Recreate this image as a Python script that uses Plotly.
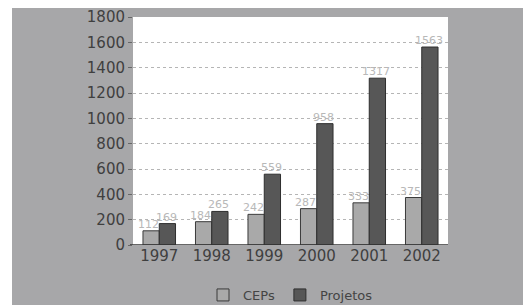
import plotly.graph_objects as go

years = ["1997", "1998", "1999", "2000", "2001", "2002"]
ceps = [112, 184, 242, 287, 333, 375]
projetos = [169, 265, 559, 958, 1317, 1563]
y_ticks = [0, 200, 400, 600, 800, 1000, 1200, 1400, 1600, 1800]

FONT = "DejaVu Sans"
OFF = 8  # default page body margin
W, H = 531 - OFF, 305 - OFF
L, T = 133 - OFF, 17 - OFF
PW, PH = 315, 228
R, B = W - L - PW, H - T - PH


def px(x):
    return (x - OFF - L) / PW


def py(y):
    return (T + PH - (y - OFF)) / PH


fig = go.Figure()
fig.add_trace(go.Bar(
    x=years, y=ceps, name="CEPs",
    marker=dict(color="#a9a9a9", line=dict(color="#3a3a3a", width=1)),
))
fig.add_trace(go.Bar(
    x=years, y=projetos, name="Projetos",
    marker=dict(color="#575757", line=dict(color="#2e2e2e", width=1)),
))

annotations = []
for i, v in enumerate(ceps):
    annotations.append(dict(x=i, y=v, xref="x", yref="y", text=str(v), showarrow=False,
                            xshift=-11, yanchor="bottom", yshift=-2,
                            font=dict(color="#b8b8b8", size=11, family=FONT)))
for i, v in enumerate(projetos):
    annotations.append(dict(x=i, y=v, xref="x", yref="y", text=str(v), showarrow=False,
                            xshift=7, yanchor="bottom", yshift=-2,
                            font=dict(color="#b8b8b8", size=11, family=FONT)))

fig.update_layout(
    width=W, height=H,
    margin=dict(l=L, r=R, t=T, b=B, autoexpand=False),
    paper_bgcolor="white",
    plot_bgcolor="white",
    barmode="group", bargap=0.38, bargroupgap=0.0,
    font=dict(family=FONT, color="#3a3a3a"),
    showlegend=True,
    legend=dict(orientation="h", x=0.5, xanchor="center", y=py(295), yanchor="middle",
                font=dict(size=13, color="#444444", family=FONT),
                bgcolor="rgba(0,0,0,0)", traceorder="normal"),
    xaxis=dict(type="category", showgrid=False, showline=False, ticks="",
               tickfont=dict(size=15, color="#3f3f3f", family=FONT)),
    yaxis=dict(range=[0, 1800], tickvals=y_ticks, showgrid=True,
               gridcolor="#b5b5b5", griddash="dot", gridwidth=1,
               zeroline=False, showline=False, ticks="outside", ticklen=4,
               tickcolor="#666666",
               tickfont=dict(size=15, color="#3f3f3f", family=FONT)),
    annotations=annotations,
    shapes=[
        dict(type="rect", xref="paper", yref="paper", x0=px(12), x1=px(540),
             y0=py(320), y1=py(0), fillcolor="#a7a7a9", line=dict(width=0), layer="below"),
        dict(type="rect", xref="paper", yref="paper", x0=0, x1=1,
             y0=0, y1=1, fillcolor="white", line=dict(width=0), layer="below"),
        dict(type="line", xref="paper", yref="y", x0=px(130), x1=1.0, y0=0, y1=0,
             line=dict(color="#333333", width=1.5)),
    ],
)

fig.write_html("out.html")
